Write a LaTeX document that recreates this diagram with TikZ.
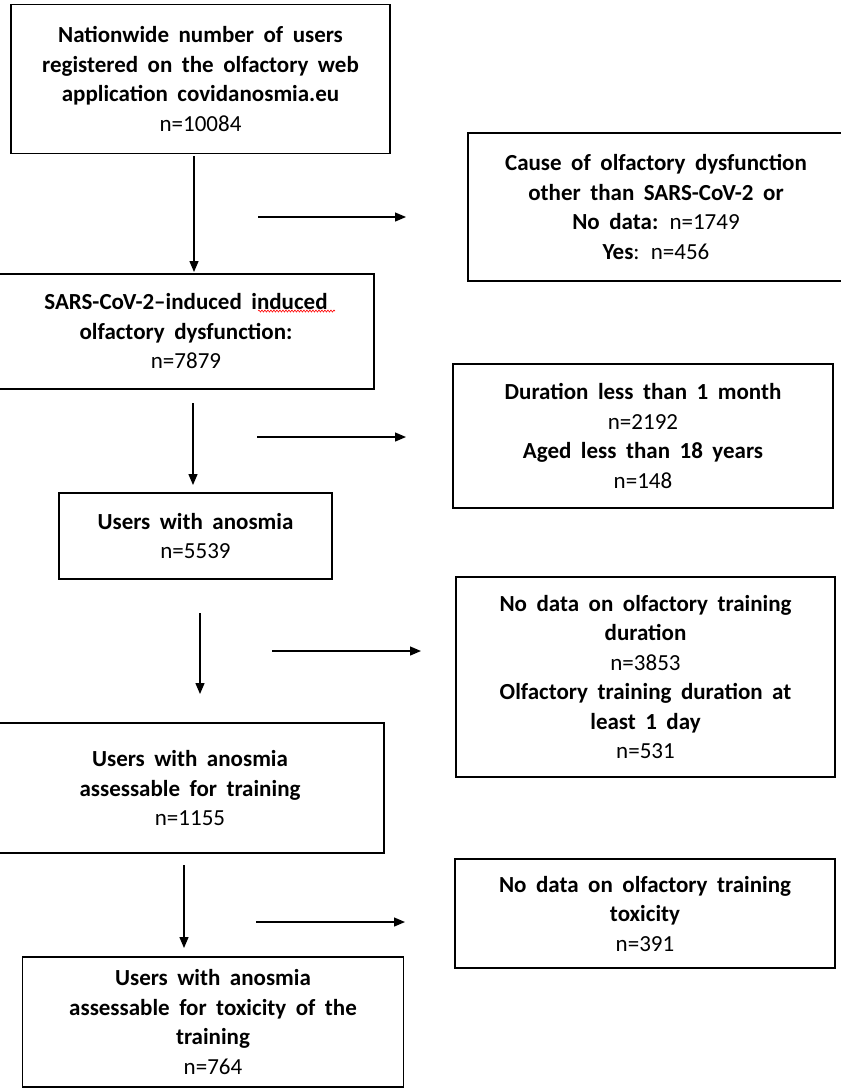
\documentclass[tikz,border=0pt]{standalone}
\usepackage{fontspec}
\setmainfont{Carlito}
\usetikzlibrary{arrows.meta,decorations.pathmorphing}

\DeclareRobustCommand\widespaces{\spaceskip=9.5pt plus 3pt minus 2pt\relax}

\tikzset{
  box/.style={draw,line width=1.6pt,align=center,inner sep=4pt,
    font=\fontsize{23}{29.5}\selectfont\widespaces},
  flowarrow/.style={line width=1.3pt,-{Triangle[length=11pt,width=9pt]}}
}

\begin{document}
\begin{tikzpicture}[x=1pt,y=-1pt]
\useasboundingbox (0,0) rectangle (841,1088);
\clip (0,0) rectangle (841,1088);

% Main column
\node[box,minimum width=379pt,minimum height=149pt] (users) at (200.5,79)
  {\textbf{Nationwide number of users}\\ \textbf{registered on the olfactory web}\\
   \textbf{application covidanosmia.eu}\\ n=10084};
\node[box,minimum width=376pt,minimum height=115pt] (sars) at (186,331.5)
  {\textbf{SARS-CoV-2--induced induced}\\ \textbf{olfactory dysfunction:}\\ n=7879};
\node[box,minimum width=273pt,minimum height=86pt] (anosmia) at (195.5,536)
  {\textbf{Users with anosmia}\\ n=5539};
\node[box,minimum width=388pt,minimum height=130pt] (training) at (190,788)
  {\textbf{Users with anosmia}\\ \textbf{assessable for training}\\ n=1155};
\node[box,minimum width=381pt,minimum height=130pt] (toxicity) at (213,1022)
  {\textbf{Users with anosmia}\\ \textbf{assessable for toxicity of the}\\
   \textbf{training}\\ n=764};

% Exclusions
\node[box,minimum width=376pt,minimum height=148pt] (othercause) at (656,207)
  {\textbf{Cause of olfactory dysfunction}\\ \textbf{other than SARS-CoV-2 or}\\
   \textbf{No data:} n=1749\\ \textbf{Yes}: n=456};
\node[box,minimum width=380pt,minimum height=144pt] (duration) at (643,436)
  {\textbf{Duration less than 1 month}\\ n=2192\\ \textbf{Aged less than 18 years}\\ n=148};
\node[box,minimum width=379pt,minimum height=200pt] (nodata) at (645.5,677)
  {\textbf{No data on olfactory training}\\ \textbf{duration}\\ n=3853\\
   \textbf{Olfactory training duration at}\\ \textbf{least 1 day}\\ n=531};
\node[box,minimum width=380pt,minimum height=109pt] (notox) at (645,913.5)
  {\textbf{No data on olfactory training}\\ \textbf{toxicity}\\ n=391};

% Arrow ends
\coordinate (d1a) at (194,156);  \coordinate (d1b) at (194,272);
\coordinate (d2a) at (193,403);  \coordinate (d2b) at (193,485);
\coordinate (d3a) at (200,613);  \coordinate (d3b) at (200,694);
\coordinate (d4a) at (184,865);  \coordinate (d4b) at (184,948);
\coordinate (r1a) at (258,217);  \coordinate (r1b) at (406,217);
\coordinate (r2a) at (257,437);  \coordinate (r2b) at (406,437);
\coordinate (r3a) at (272,651);  \coordinate (r3b) at (421,651);
\coordinate (r4a) at (256,922);  \coordinate (r4b) at (405,922);

% Arrows
\draw[flowarrow] (d1a) -- (d1b);
\draw[flowarrow] (d2a) -- (d2b);
\draw[flowarrow] (d3a) -- (d3b);
\draw[flowarrow] (d4a) -- (d4b);
\draw[flowarrow] (r1a) -- (r1b);
\draw[flowarrow] (r2a) -- (r2b);
\draw[flowarrow] (r3a) -- (r3b);
\draw[flowarrow] (r4a) -- (r4b);

% Spelling mark
\draw[red,line width=0.6pt,decorate,decoration={snake,amplitude=1pt,segment length=3pt}]
  (258,311) -- (335,311);
\end{tikzpicture}
\end{document}
